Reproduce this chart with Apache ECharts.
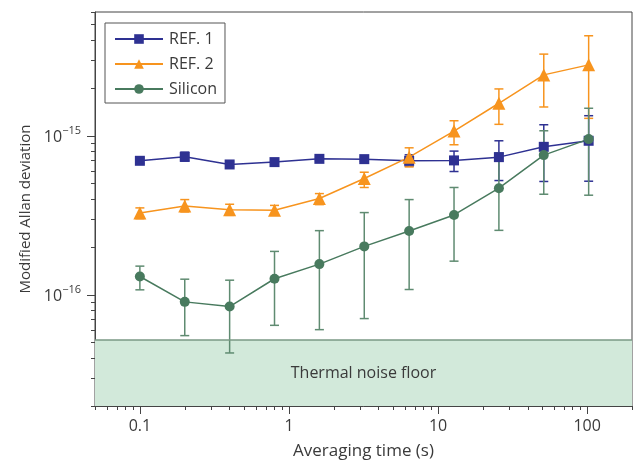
<!DOCTYPE html>
<html>
<head>
<meta charset="utf-8">
<script src="https://cdn.jsdelivr.net/npm/echarts@6/dist/echarts.min.js"></script>
<style>
  html, body { margin: 0; padding: 0; background: #fff; }
  #main { width: 634px; height: 464px; }
</style>
</head>
<body>
<div id="main"></div>
<script>
// averaging time (s)
var tau = [0.1, 0.2, 0.4, 0.8, 1.6, 3.2, 6.4, 12.8, 25.6, 51.2, 102.4];

// REF. 1
var ref1   = [6.96e-16, 7.37e-16, 6.60e-16, 6.83e-16, 7.16e-16, 7.13e-16, 6.96e-16, 7.00e-16, 7.34e-16, 8.52e-16, 9.30e-16];
var ref1Hi = [7.25e-16, 7.89e-16, 6.85e-16, 7.05e-16, 7.35e-16, 7.35e-16, 7.59e-16, 8.01e-16, 9.30e-16, 1.173e-15, 1.337e-15];
var ref1Lo = [6.70e-16, 6.93e-16, 6.38e-16, 6.62e-16, 6.98e-16, 6.92e-16, 6.44e-16, 5.96e-16, 5.23e-16, 5.16e-16, 5.18e-16];

// REF. 2
var ref2   = [3.27e-16, 3.62e-16, 3.43e-16, 3.40e-16, 4.03e-16, 5.39e-16, 7.34e-16, 1.071e-15, 1.601e-15, 2.414e-15, 2.791e-15];
var ref2Hi = [3.52e-16, 3.97e-16, 3.71e-16, 3.65e-16, 4.33e-16, 5.90e-16, 8.40e-16, 1.243e-15, 1.970e-15, 3.261e-15, 4.253e-15];
var ref2Lo = [3.01e-16, 3.32e-16, 3.16e-16, 3.18e-16, 3.69e-16, 4.73e-16, 6.37e-16, 8.78e-16, 1.180e-15, 1.517e-15, 1.287e-15];

// Silicon
var si   = [1.304e-16, 9.03e-17, 8.44e-17, 1.262e-16, 1.56e-16, 2.016e-16, 2.518e-16, 3.177e-16, 4.68e-16, 7.56e-16, 9.53e-16];
var siHi = [1.515e-16, 1.254e-16, 1.236e-16, 1.875e-16, 2.532e-16, 3.289e-16, 3.97e-16, 4.73e-16, 7.80e-16, 1.075e-15, 1.489e-15];
var siLo = [1.075e-16, 5.54e-17, 4.31e-17, 6.43e-17, 6.04e-17, 7.09e-17, 1.08e-16, 1.628e-16, 2.543e-16, 4.29e-16, 4.23e-16];

var noiseFloor = 5.2e-17;

// axis ranges and ticks
var xMin = 0.05, xMax = 200;
var yMin = 2e-17, yMax = 6e-15;
var xMajor = [0.1, 1, 10, 100];
var xMinor = [0.05, 0.06, 0.07, 0.08, 0.09, 0.2, 0.3, 0.4, 0.5, 0.6, 0.7, 0.8, 0.9,
              2, 3, 4, 5, 6, 7, 8, 9, 20, 30, 40, 50, 60, 70, 80, 90, 200];
var yMajor = [1e-16, 1e-15];
var yMinor = [2e-17, 3e-17, 4e-17, 5e-17, 6e-17, 7e-17, 8e-17, 9e-17,
              2e-16, 3e-16, 4e-16, 5e-16, 6e-16, 7e-16, 8e-16, 9e-16,
              2e-15, 3e-15, 4e-15, 5e-15, 6e-15];

var FONT = 'Open Sans';
var TXT = '#3a3a3a';
var AX = '#444';
var C1 = '#2e3192', C2 = '#f7941e', C3 = '#487a5e', C3err = '#5f8b71';

function zip(xs, a, b) {
    var out = [];
    for (var i = 0; i < xs.length; i++) {
        out.push(b ? [xs[i], a[i], b[i]] : [xs[i], a[i]]);
    }
    return out;
}

// vertical error bar with caps
function errorBar(color) {
    return function (params, api) {
        var x = api.value(0);
        var lo = api.coord([x, api.value(1)]);
        var hi = api.coord([x, api.value(2)]);
        var w = 4.5;
        var st = { stroke: color, lineWidth: 1.5 };
        return {
            type: 'group',
            children: [
                { type: 'line', shape: { x1: lo[0], y1: lo[1], x2: hi[0], y2: hi[1] }, style: st },
                { type: 'line', shape: { x1: lo[0] - w, y1: lo[1], x2: lo[0] + w, y2: lo[1] }, style: st },
                { type: 'line', shape: { x1: hi[0] - w, y1: hi[1], x2: hi[0] + w, y2: hi[1] }, style: st }
            ]
        };
    };
}

function errSeries(name, lo, hi, color) {
    return {
        name: name,
        type: 'custom',
        xAxisIndex: 0,
        yAxisIndex: 0,
        renderItem: errorBar(color),
        encode: { x: 0, y: [1, 2] },
        data: zip(tau, lo, hi),
        silent: true
    };
}

function lineSeries(name, vals, color, symbol, size) {
    return {
        name: name,
        type: 'line',
        xAxisIndex: 0,
        yAxisIndex: 0,
        data: zip(tau, vals),
        symbol: symbol,
        symbolSize: size,
        showAllSymbol: true,
        lineStyle: { color: color, width: 1.5 },
        itemStyle: { color: color },
        emphasis: { disabled: true }
    };
}

var myChart = echarts.init(document.getElementById('main'));

var option = {
    animation: false,
    textStyle: { fontFamily: FONT },
    grid: {
        left: 95, top: 12, right: 2, bottom: 58,
        outerBoundsMode: 'none',
        show: true, borderColor: AX, borderWidth: 1
    },
    legend: {
        orient: 'vertical',
        left: 105,
        top: 23,
        padding: [7, 8, 5, 9],
        itemWidth: 48,
        itemHeight: 12,
        itemGap: 7,
        borderColor: '#555',
        borderWidth: 1,
        textStyle: { fontFamily: FONT, fontSize: 16, lineHeight: 18, color: TXT, padding: [0, 0, 0, 1] },
        data: ['REF. 1', 'REF. 2', 'Silicon']
    },
    xAxis: [{
        type: 'log',
        min: xMin, max: xMax,
        position: 'bottom',
        name: 'Averaging time (s)',
        nameLocation: 'middle',
        nameGap: 37,
        nameTextStyle: { fontFamily: FONT, fontSize: 17, color: TXT },
        axisLine: { show: true, lineStyle: { color: AX } },
        axisTick: { show: true, length: 8, customValues: xMajor, lineStyle: { color: AX } },
        axisLabel: {
            customValues: xMajor, margin: 12, fontSize: 16, color: TXT, fontFamily: FONT,
            formatter: function (v) { return String(v); }
        },
        splitLine: { show: false }
    }, {
        type: 'log',
        min: xMin, max: xMax,
        position: 'bottom',
        axisLine: { show: false },
        axisTick: { show: true, length: 4, customValues: xMinor, lineStyle: { color: AX } },
        axisLabel: { show: false },
        splitLine: { show: false }
    }],
    yAxis: [{
        type: 'log',
        min: yMin, max: yMax,
        position: 'left',
        name: 'Modified Allan deviation',
        nameLocation: 'middle',
        nameGap: 62,
        nameTextStyle: { fontFamily: FONT, fontSize: 15, color: TXT },
        axisLine: { show: true, lineStyle: { color: AX } },
        axisTick: { show: true, length: 8, customValues: yMajor, lineStyle: { color: AX } },
        axisLabel: {
            customValues: yMajor, margin: 14, color: TXT, fontFamily: FONT,
            formatter: function (v) {
                var e = Math.round(Math.log10(v));
                return '{b|10}{s|\u2212' + (-e) + '}';
            },
            rich: {
                b: { fontSize: 16, color: TXT, fontFamily: FONT, lineHeight: 20, verticalAlign: 'bottom' },
                s: { fontSize: 11, color: TXT, fontFamily: FONT, lineHeight: 20, verticalAlign: 'top' }
            }
        },
        splitLine: { show: false }
    }, {
        type: 'log',
        min: yMin, max: yMax,
        position: 'left',
        axisLine: { show: false },
        axisTick: { show: true, length: 4, customValues: yMinor, lineStyle: { color: AX } },
        axisLabel: { show: false },
        splitLine: { show: false }
    }],
    series: [
        {
            // thermal noise floor: shaded band plus its top edge
            name: 'floor',
            type: 'line',
            data: zip([xMin, xMax], [noiseFloor, noiseFloor]),
            symbol: 'none',
            silent: true,
            lineStyle: { color: '#7a9985', width: 1.5 },
            markArea: {
                silent: true,
                itemStyle: { color: '#d2e9da' },
                label: {
                    show: true, position: 'inside', fontFamily: FONT, fontSize: 16, color: TXT
                },
                data: [[{ name: 'Thermal noise floor', yAxis: yMin }, { yAxis: noiseFloor }]]
            }
        },
        errSeries('ref1Err', ref1Lo, ref1Hi, C1),
        lineSeries('REF. 1', ref1, C1, 'rect', 10),
        errSeries('ref2Err', ref2Lo, ref2Hi, C2),
        lineSeries('REF. 2', ref2, C2, 'triangle', 13),
        errSeries('siErr', siLo, siHi, C3err),
        lineSeries('Silicon', si, C3, 'circle', 10)
    ]
};
myChart.setOption(option);
</script>
</body>
</html>
